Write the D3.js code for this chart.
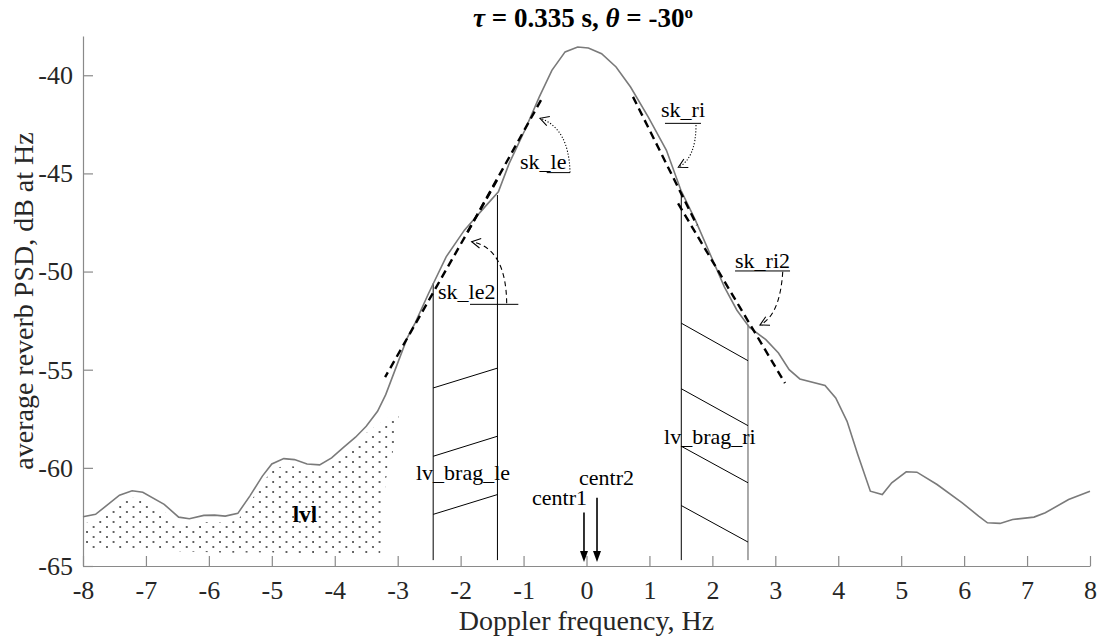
<!DOCTYPE html>
<html><head><meta charset="utf-8">
<script src="https://cdn.jsdelivr.net/npm/d3@7"></script>
<style>
html,body{margin:0;padding:0;background:#fff;}
svg{display:block;font-family:"Liberation Serif","Times New Roman",serif;}
</style></head><body>
<svg id="chart" width="1106" height="641"></svg>
<script>
// ---------- data ----------
const xTicks = [-8,-7,-6,-5,-4,-3,-2,-1,0,1,2,3,4,5,6,7,8];
const yTicks = [-65,-60,-55,-50,-45,-40];

const freq = [-8.00,-7.80,-7.42,-7.22,-7.05,-6.71,-6.48,-6.31,-6.08,-5.91,-5.74,-5.54,-5.35,-5.15,-5.00,-4.81,-4.64,-4.44,-4.24,-4.05,-3.87,-3.67,-3.50,-3.32,-3.19,-3.02,-2.85,-2.72,-2.51,-2.23,-1.94,-1.66,-1.40,-1.23,-0.98,-0.75,-0.55,-0.34,-0.14,0.03,0.24,0.47,0.70,0.98,1.27,1.50,1.73,1.96,2.19,2.39,2.59,2.85,3.05,3.22,3.39,3.79,3.96,4.14,4.31,4.51,4.70,4.85,5.08,5.25,5.57,5.97,6.23,6.37,6.57,6.77,7.11,7.29,7.66,8.00];
const psd = [-62.49,-62.37,-61.39,-61.17,-61.24,-61.86,-62.51,-62.59,-62.42,-62.41,-62.46,-62.32,-61.44,-60.42,-59.80,-59.53,-59.58,-59.80,-59.85,-59.49,-58.98,-58.44,-57.88,-57.12,-56.27,-54.83,-53.39,-52.60,-51.12,-49.25,-47.89,-46.87,-45.94,-44.50,-42.80,-41.10,-39.75,-38.81,-38.56,-38.61,-38.90,-39.58,-40.60,-42.12,-43.82,-45.86,-47.38,-49.08,-50.78,-51.97,-52.85,-53.47,-54.15,-55.00,-55.47,-55.80,-56.44,-57.63,-59.32,-61.19,-61.36,-60.76,-60.20,-60.22,-60.85,-61.78,-62.46,-62.80,-62.83,-62.63,-62.51,-62.29,-61.61,-61.19];

// tangent (slope) dashed lines
const tangentF0 = [-0.723,-1.422,0.739,1.455];
const tangentV0 = [-41.27,-45.35,-41.10,-46.53];
const tangentF1 = [-1.899,-3.200,1.755,3.153];
const tangentV1 = [-48.04,-55.38,-47.64,-55.68];

// Bragg band vertical lines
const braggF = [-2.436,-1.415,1.506,2.566];
const braggTop = [-50.6,-46.1,-46.0,-52.7];
const braggBottom = -64.7;
const hatchLeft = [[-55.93,-54.92],[-59.41,-58.39],[-62.37,-61.36]];
const hatchRight = [[-52.63,-54.54],[-55.97,-57.85],[-58.90,-60.76],[-61.92,-63.78]];

// centre arrows
const centrF = [-0.040,0.167];
const centrFrom = [-62.28,-61.52];
const centrTo = -64.8;

// dotted "lvl" region boundary (top follows the curve up to lvlTopEnd)
const lvlTopEnd = -3.5;
const lvlRight = [[-2.96,-57.0],[-3.08,-59.24],[-3.19,-60.6],[-3.28,-64.5]];
const lvlBottom = [[-3.6,-64.46],[-4.6,-64.46],[-5.0,-64.3],[-5.7,-64.32],[-6.6,-64.24],[-7.7,-64.2],[-8.0,-64.15]];

// text labels
const labelText = ["sk_le","sk_le2","sk_ri","sk_ri2","lv_brag_le","lv_brag_ri","centr2"];
const labelF = [-1.057,-2.359,1.184,2.360,-2.709,1.232,-0.119];
const labelV = [-44.78,-51.40,-42.13,-49.82,-60.62,-58.78,-60.87];

// underlines under labels
const ulF0 = [-0.632,-1.851,1.247,2.360];
const ulF1 = [-0.262,-1.083,1.819,3.234];
const ulV = [-44.96,-51.67,-42.45,-49.97];

// curved annotation arrows: start, control, tip
const arcStart = [[-0.262,-44.96],[-1.268,-51.62],[1.740,-42.53],[3.118,-50.01]];
const arcCtrl  = [[-0.278,-42.69],[-1.279,-48.80],[1.740,-44.22],[3.075,-52.21]];
const arcTip   = [[-0.739,-42.19],[-1.824,-48.48],[1.459,-44.69],[2.757,-52.72]];
const arcStyle = ["dotted","dashed","dotted","dashed"];

// ---------- layout ----------
const W = 1106, H = 641;
const margin = {left:83, right:16, top:36, bottom:75};
const svg = d3.select("#chart");
const x = d3.scaleLinear().domain([-8,8]).range([margin.left, W-margin.right]);
const y = d3.scaleLinear().domain([-65,-38]).range([H-margin.bottom, margin.top]);

const axisColor = "#8a8a8a";
const textColor = "#262626";
const font = '"Liberation Serif","Times New Roman",serif';

// dotted pattern
const defs = svg.append("defs");
const pat = defs.append("pattern").attr("id","dots").attr("patternUnits","userSpaceOnUse")
  .attr("width",13.3).attr("height",10).attr("x",x(-8)+3).attr("y",0);
pat.append("circle").attr("cx",1).attr("cy",2).attr("r",0.9).attr("fill","#222");
pat.append("circle").attr("cx",7.65).attr("cy",7).attr("r",0.9).attr("fill","#222");

// dotted region
const lvlPts = [];
freq.forEach((f,i)=>{ if (f <= lvlTopEnd) lvlPts.push([f, psd[i]-0.35]); });
lvlRight.forEach(p=>lvlPts.push(p));
lvlBottom.forEach(p=>lvlPts.push(p));
svg.append("path")
  .attr("d", d3.line().x(d=>x(d[0])).y(d=>y(d[1]))(lvlPts) + "Z")
  .attr("fill","url(#dots)").attr("stroke","none");

// axes
const fmt = d => String(d);
const xAxis = d3.axisBottom(x).tickValues(xTicks).tickSizeInner(-10).tickSizeOuter(0).tickPadding(15).tickFormat(fmt);
const gx = svg.append("g").attr("transform",`translate(0,${y(-65)})`).call(xAxis);
const yAxis = d3.axisLeft(y).tickValues(yTicks).tickSizeInner(-10).tickSizeOuter(0).tickPadding(10).tickFormat(fmt);
const gy = svg.append("g").attr("transform",`translate(${x(-8)},0)`).call(yAxis);
[gx,gy].forEach(g=>{
  g.select(".domain").attr("stroke",axisColor).attr("stroke-width",1.2);
  g.selectAll(".tick line").attr("stroke",axisColor).attr("stroke-width",1.2);
  g.selectAll(".tick text").attr("fill",textColor).style("font-family",font).style("font-size","26px");
});
gx.selectAll(".tick text").attr("dy","0.71em");

// axis labels
svg.append("text").attr("x", (x(-8)+x(8))/2).attr("y",630).attr("text-anchor","middle")
  .style("font-size","28px").attr("fill",textColor).text("Doppler frequency, Hz");
svg.append("text").attr("transform",`translate(33,${(y(-65)+y(-38))/2}) rotate(-90)`).attr("text-anchor","middle")
  .style("font-size","28px").attr("fill",textColor).text("average reverb PSD, dB at Hz");

// title
const title = svg.append("text").attr("x",583).attr("y",27).attr("text-anchor","middle")
  .style("font-size","27px").style("font-weight","bold").attr("fill","#000");
title.append("tspan").style("font-style","italic").text("τ");
title.append("tspan").text(" = 0.335 s, ");
title.append("tspan").style("font-style","italic").text("θ");
title.append("tspan").text(" = -30");
title.append("tspan").attr("dy",-9).style("font-size","17px").text("o");

// Bragg bands
braggF.forEach((f,i)=>{
  svg.append("line").attr("x1",x(f)).attr("x2",x(f)).attr("y1",y(braggTop[i])).attr("y2",y(braggBottom))
    .attr("stroke", i===3 ? "#555" : "#000").attr("stroke-width",1);
});
hatchLeft.forEach(h=>{
  svg.append("line").attr("x1",x(braggF[0])).attr("y1",y(h[0])).attr("x2",x(braggF[1])).attr("y2",y(h[1]))
    .attr("stroke","#000").attr("stroke-width",1);
});
hatchRight.forEach(h=>{
  svg.append("line").attr("x1",x(braggF[2])).attr("y1",y(h[0])).attr("x2",x(braggF[3])).attr("y2",y(h[1]))
    .attr("stroke","#000").attr("stroke-width",1);
});

// main curve
svg.append("path")
  .attr("d", d3.line().x((d,i)=>x(freq[i])).y((d,i)=>y(psd[i]))(freq))
  .attr("fill","none").attr("stroke","#7a7a7a").attr("stroke-width",1.6);

// tangent dashed lines
tangentF0.forEach((f,i)=>{
  svg.append("line").attr("x1",x(f)).attr("y1",y(tangentV0[i])).attr("x2",x(tangentF1[i])).attr("y2",y(tangentV1[i]))
    .attr("stroke","#000").attr("stroke-width",2.4).attr("stroke-dasharray","8,5");
});

// labels
labelText.forEach((t,i)=>{
  svg.append("text").attr("x",x(labelF[i])).attr("y",y(labelV[i]))
    .style("font-size","22px").attr("fill","#000").text(t);
});
svg.append("text").attr("x",x(0.008)).attr("y",y(-61.89)).attr("text-anchor","end")
  .style("font-size","22px").attr("fill","#000").text("centr1");
svg.append("text").attr("x",x(-4.473)).attr("y",y(-62.76)).attr("text-anchor","middle")
  .style("font-size","23px").style("font-weight","bold").attr("fill","#000").text("lvl");

// underlines
ulF0.forEach((f,i)=>{
  svg.append("line").attr("x1",x(f)).attr("x2",x(ulF1[i])).attr("y1",y(ulV[i])).attr("y2",y(ulV[i]))
    .attr("stroke","#000").attr("stroke-width",1);
});

// curved arrows
arcStart.forEach((s,i)=>{
  const c = arcCtrl[i], t = arcTip[i];
  const sx=x(s[0]), sy=y(s[1]), cx=x(c[0]), cy=y(c[1]), tx=x(t[0]), ty=y(t[1]);
  svg.append("path").attr("d",`M${sx},${sy}Q${cx},${cy} ${tx},${ty}`)
    .attr("fill","none").attr("stroke","#000").attr("stroke-width",1.1)
    .attr("stroke-dasharray", arcStyle[i]==="dotted" ? "1.2,1.8" : "5,3.5");
  const ang = Math.atan2(ty-cy, tx-cx);
  const L = 10, a = 0.5;
  const p1 = [tx - L*Math.cos(ang-a), ty - L*Math.sin(ang-a)];
  const p2 = [tx - L*Math.cos(ang+a), ty - L*Math.sin(ang+a)];
  svg.append("path").attr("d",`M${p1[0]},${p1[1]}L${tx},${ty}L${p2[0]},${p2[1]}`)
    .attr("fill","none").attr("stroke","#000").attr("stroke-width",1.1);
});

// centre arrows
centrF.forEach((f,i)=>{
  const px = x(f), y0 = y(centrFrom[i]), y1 = y(centrTo);
  svg.append("line").attr("x1",px).attr("x2",px).attr("y1",y0).attr("y2",y1-8)
    .attr("stroke","#000").attr("stroke-width",1.6);
  svg.append("path").attr("d",`M${px-4},${y1-11}L${px+4},${y1-11}L${px},${y1}Z`).attr("fill","#000");
});
</script>
</body></html>
